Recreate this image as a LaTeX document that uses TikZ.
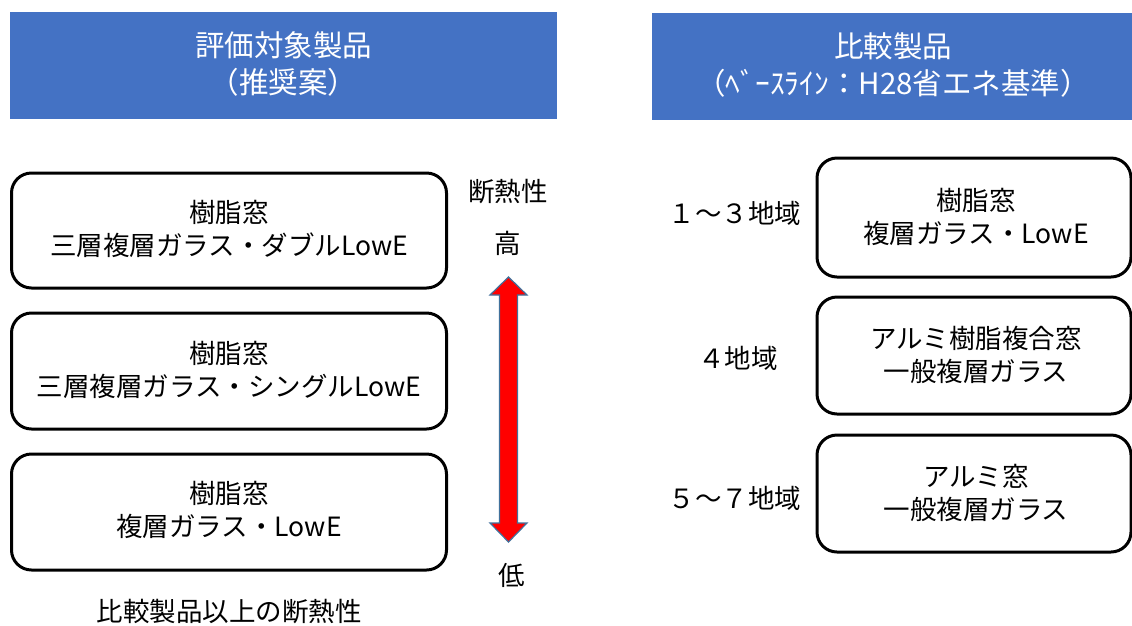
\documentclass[tikz,border=0pt]{standalone}
\usepackage{fontspec}
\setmainfont{Noto Sans CJK JP}
\definecolor{hdrblue}{HTML}{4472C4}
\definecolor{arrowedge}{HTML}{41719C}
\begin{document}
\begin{tikzpicture}[x=1pt,y=-1pt,
  winbox/.style={draw=black,line width=3pt,rounded corners=20pt},
  lbl/.style={font=\fontsize{26.5}{33}\selectfont,inner sep=0pt,align=center},
  hdr/.style={text=white,align=center,inner sep=0pt,font=\fontsize{29.5}{37}\selectfont}]
\useasboundingbox (0,0) rectangle (1132,625);
\fill[white] (0,0) rectangle (1132,625);
% headers
\fill[hdrblue] (10,12) rectangle (557,119);
\node[hdr] (hl) at (283.5,64) {評価対象製品\\（推奨案）};
\fill[hdrblue] (652,13) rectangle (1134,120);
\node[hdr] (hr) at (893,65) {比較製品\\（ﾍﾞｰｽﾗｲﾝ：H28省エネ基準）};
% left boxes
\draw[winbox] (11.5,173) rectangle (446.5,288);
\node[lbl] (l1) at (229,229) {樹脂窓\\三層複層ガラス・ダブルLowE};
\draw[winbox] (11.5,313) rectangle (446.5,429);
\node[lbl] (l2) at (229,370) {樹脂窓\\三層複層ガラス・シングルLowE};
\draw[winbox] (11.5,454) rectangle (446.5,570);
\node[lbl] (l3) at (229,510) {樹脂窓\\複層ガラス・LowE};
% arrow
\node[lbl] (dn) at (508,192) {断熱性};
\node[lbl] (hi) at (508,243) {高};
\node[lbl] (lo) at (512,575) {低};
\draw[draw=arrowedge, fill=red, line width=1.2pt, line join=miter]
  (508.5,277) -- (527,295) -- (517.5,295) -- (517.5,523) -- (527,523) -- (508.5,542)
  -- (490,523) -- (499.5,523) -- (499.5,295) -- (490,295) -- cycle;
\node[lbl] (note) at (229,612) {比較製品以上の断熱性};
% right boxes
\draw[winbox] (817,158) rectangle (1131,277);
\node[lbl] (r1) at (976,217) {樹脂窓\\複層ガラス・LowE};
\draw[winbox] (817,297) rectangle (1131,414);
\node[lbl] (r2) at (976,355) {アルミ樹脂複合窓\\一般複層ガラス};
\draw[winbox] (817,435) rectangle (1131,552);
\node[lbl] (r3) at (976,493) {アルミ窓\\一般複層ガラス};
\node[lbl] (z1) at (735,213) {１～３地域};
\node[lbl] (z2) at (738,358) {４地域};
\node[lbl] (z3) at (735,498) {５～７地域};
\end{tikzpicture}
\end{document}
